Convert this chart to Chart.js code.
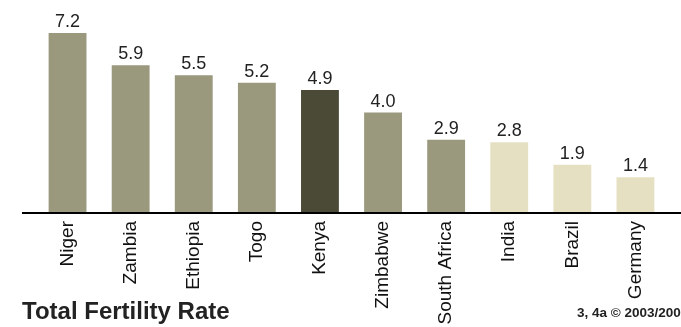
<!DOCTYPE html>
<html>
<head>
<meta charset="utf-8">
<script src="https://cdn.jsdelivr.net/npm/chart.js@4/dist/chart.umd.min.js"></script>
<style>
  html, body { margin: 0; padding: 0; background: #fff; }
  #wrap { position: relative; width: 681px; height: 327px; overflow: hidden; }
  #title { position: absolute; left: 22px; top: 299px; white-space: nowrap; font: bold 24px/24px "Liberation Sans", Arial, sans-serif; color: #222; }
  #source { position: absolute; left: 577px; top: 306px; white-space: nowrap; font: bold 13.5px/13.5px "Liberation Sans", Arial, sans-serif; color: #222; }
</style>
</head>
<body>
<div id="wrap">
  <canvas id="tfr" width="681" height="327"></canvas>
  <div id="title">Total Fertility Rate</div>
  <div id="source">3, 4a © 2003/200</div>
</div>
<script>
var countries = ['Niger', 'Zambia', 'Ethiopia', 'Togo', 'Kenya', 'Zimbabwe', 'South Africa', 'India', 'Brazil', 'Germany'];
var rates = [7.2, 5.9, 5.5, 5.2, 4.9, 4.0, 2.9, 2.8, 1.9, 1.4];
var highlighted = ['Kenya'];
var outsideAfrica = ['India', 'Brazil', 'Germany'];

var FONT = '"Liberation Sans", Arial, sans-serif';

var colors = countries.map(function(c){
    if (highlighted.indexOf(c) >= 0) return '#4b4a36';
    if (outsideAfrica.indexOf(c) >= 0) return '#e6e0c2';
    return '#9a997e';
});

// baseline across the full width + value labels over each bar
var extras = {
    id: 'extras',
    afterDatasetsDraw: function(chart){
        var ctx = chart.ctx;
        var y0 = chart.scales.y.getPixelForValue(0);
        ctx.save();
        ctx.fillStyle = '#000';
        ctx.fillRect(22, Math.round(y0), 681 - 22, 2);

        ctx.font = '18px ' + FONT;
        ctx.fillStyle = '#222';
        ctx.textAlign = 'center';
        ctx.textBaseline = 'alphabetic';
        chart.getDatasetMeta(0).data.forEach(function(bar, i){
            ctx.fillText(rates[i].toFixed(1), bar.x, bar.y - 6);
        });
        ctx.restore();
    }
};

new Chart(document.getElementById('tfr'), {
    type: 'bar',
    plugins: [extras],
    data: {
        labels: countries,
        datasets: [{
            data: rates,
            backgroundColor: colors,
            barPercentage: 0.6,
            categoryPercentage: 1
        }]
    },
    options: {
        responsive: false,
        animation: false,
        layout: { padding: { left: 36, right: 14, top: 13, bottom: 0 } },
        plugins: { legend: { display: false }, tooltip: { enabled: false } },
        scales: {
            y: { display: false, min: 0, max: 8 },
            x: {
                grid: { display: false, drawTicks: false },
                border: { display: false },
                afterFit: function(scale){ scale.height = 115; },
                ticks: {
                    minRotation: 90,
                    maxRotation: 90,
                    padding: 9,
                    color: '#111',
                    font: { family: FONT, size: 19 }
                }
            }
        }
    }
});
</script>
</body>
</html>
